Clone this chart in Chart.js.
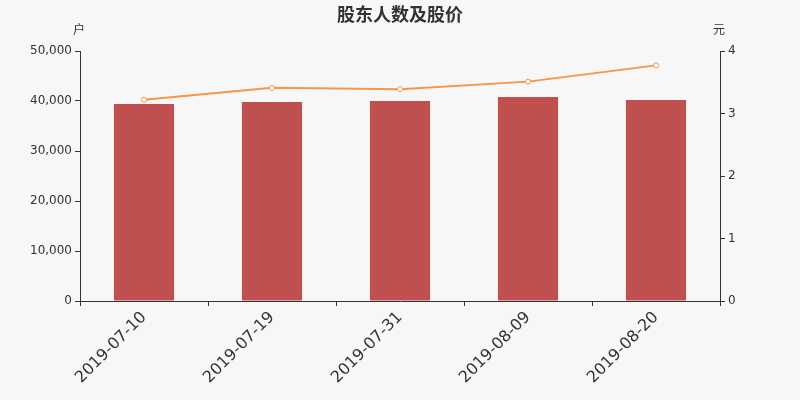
<!DOCTYPE html>
<html>
<head>
<meta charset="utf-8">
<script src="https://cdn.jsdelivr.net/npm/chart.js@4/dist/chart.umd.min.js"></script>
<style>
  html, body { margin: 0; padding: 0; background: #f7f7f7; }
  #wrap { width: 800px; height: 400px; }
</style>
</head>
<body>
<div id="wrap"><canvas id="myChart" width="800" height="400"></canvas></div>
<script>
// 数据
const dates = ['2019-07-10', '2019-07-19', '2019-07-31', '2019-08-09', '2019-08-20'];
const holders = [39400, 39800, 40000, 40800, 40200];   // 户
const prices = [3.22, 3.41, 3.39, 3.51, 3.77];          // 元

const ink = '#333333';
const font = 'DejaVu Sans';

// 背景 + 标题 + 单位
const decor = {
    id: 'decor',
    beforeDraw(chart) {
        const c = chart.ctx;
        c.save();
        c.fillStyle = '#f7f7f7';
        c.fillRect(0, 0, chart.width, chart.height);
        c.restore();
    },
    afterDraw(chart) {
        const c = chart.ctx;
        const area = chart.chartArea;
        c.save();
        c.fillStyle = ink;
        c.textAlign = 'center';
        c.textBaseline = 'middle';
        c.font = 'bold 18px "Noto Sans CJK SC"';
        c.fillText('股东人数及股价', 400, 14);
        c.font = '12px "Noto Sans CJK SC"';
        c.fillText('户', area.left - 1, 29);
        c.fillText('元', area.right - 1, 29);
        c.restore();
    }
};

const ctx = document.getElementById('myChart').getContext('2d');
new Chart(ctx, {
    type: 'bar',
    data: {
        labels: dates,
        datasets: [{
            type: 'line',
            label: '股价',
            data: prices,
            yAxisID: 'y1',
            borderColor: '#f79646',
            borderWidth: 2,
            pointRadius: 2.5,
            pointBackgroundColor: '#ffffff',
            pointBorderColor: '#f79646',
            pointBorderWidth: 1,
            tension: 0,
            order: 0
        }, {
            label: '股东人数',
            data: holders,
            yAxisID: 'y',
            backgroundColor: '#c0504d',
            categoryPercentage: 1,
            barPercentage: 0.47,
            order: 1
        }]
    },
    options: {
        responsive: false,
        animation: false,
        layout: { padding: { top: 51, left: 0, right: 0, bottom: 0 } },
        plugins: {
            legend: { display: false },
            tooltip: { enabled: false }
        },
        scales: {
            x: {
                offset: true,
                grid: { offset: true, drawOnChartArea: false, color: ink, tickLength: 5 },
                border: { color: ink, width: 1 },
                ticks: { color: ink, font: { family: font, size: 16 }, minRotation: 45, maxRotation: 45, padding: 2 },
                afterFit(scale) { scale.height = 99; }
            },
            y: {
                position: 'left',
                min: 0, max: 50000,
                ticks: {
                    stepSize: 10000, color: ink, padding: 3,
                    font: { family: font, size: 12 },
                    callback: v => v.toLocaleString('en-US')
                },
                grid: { drawOnChartArea: false, color: ink, tickLength: 5 },
                border: { color: ink, width: 1 },
                afterFit(scale) { scale.width = 80; }
            },
            y1: {
                position: 'right',
                min: 0, max: 4,
                ticks: { stepSize: 1, color: ink, padding: 3, font: { family: font, size: 12 } },
                grid: { drawOnChartArea: false, color: ink, tickLength: 5 },
                border: { color: ink, width: 1 },
                afterFit(scale) { scale.width = 80; }
            }
        }
    },
    plugins: [decor]
});
</script>
</body>
</html>
